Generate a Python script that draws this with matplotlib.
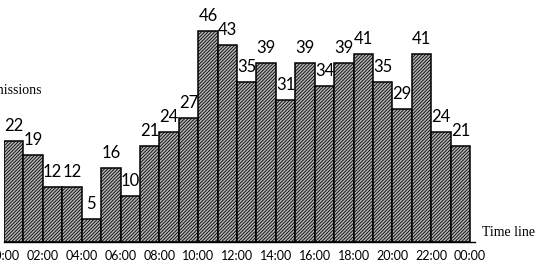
import matplotlib.pyplot as plt

hours = ['00:00', '02:00', '04:00', '06:00', '08:00', '10:00', '12:00',
         '14:00', '16:00', '18:00', '20:00', '22:00', '00:00']
admissions = [22, 19, 12, 12, 5, 16, 10, 21, 24, 27, 46, 43,
              35, 39, 31, 39, 34, 39, 41, 35, 29, 41, 24, 21]

plt.rcParams['hatch.linewidth'] = 0.6

fig = plt.figure(figsize=(5.4, 2.66), dpi=100)
ax = fig.add_axes([4 / 540, 24.5 / 266, 471 / 540, 241.5 / 266])

x = [i + 0.5 for i in range(len(admissions))]
bars = ax.bar(x, admissions, width=1.0, color='#b4b4b4', edgecolor='black',
              linewidth=1.1, hatch='//////////')

for xi, v in zip(x, admissions):
    ax.annotate(str(v), (xi, v), xytext=(0, 5), textcoords='offset points',
                ha='center', va='bottom', fontsize=12, family='Lato')

ax.set_xlim(0, 24.25)
ax.set_ylim(0, 241.5 / 4.57)
ax.set_xticks(range(0, 25, 2))
ax.set_xticklabels(hours, fontsize=9, family='Lato')
ax.tick_params(axis='x', length=0, pad=6)
ax.set_yticks([])
for s in ['left', 'right', 'top']:
    ax.spines[s].set_visible(False)
ax.spines['bottom'].set_linewidth(1.0)

fig.text(42 / 540, 1 - 90 / 266, 'Admissions', ha='right', va='center',
         fontsize=10, family='Liberation Serif')
fig.text(482 / 540, 1 - 233 / 266, 'Time line', ha='left', va='center',
         fontsize=10, family='Liberation Serif')

fig.savefig('out.png', dpi=100)
